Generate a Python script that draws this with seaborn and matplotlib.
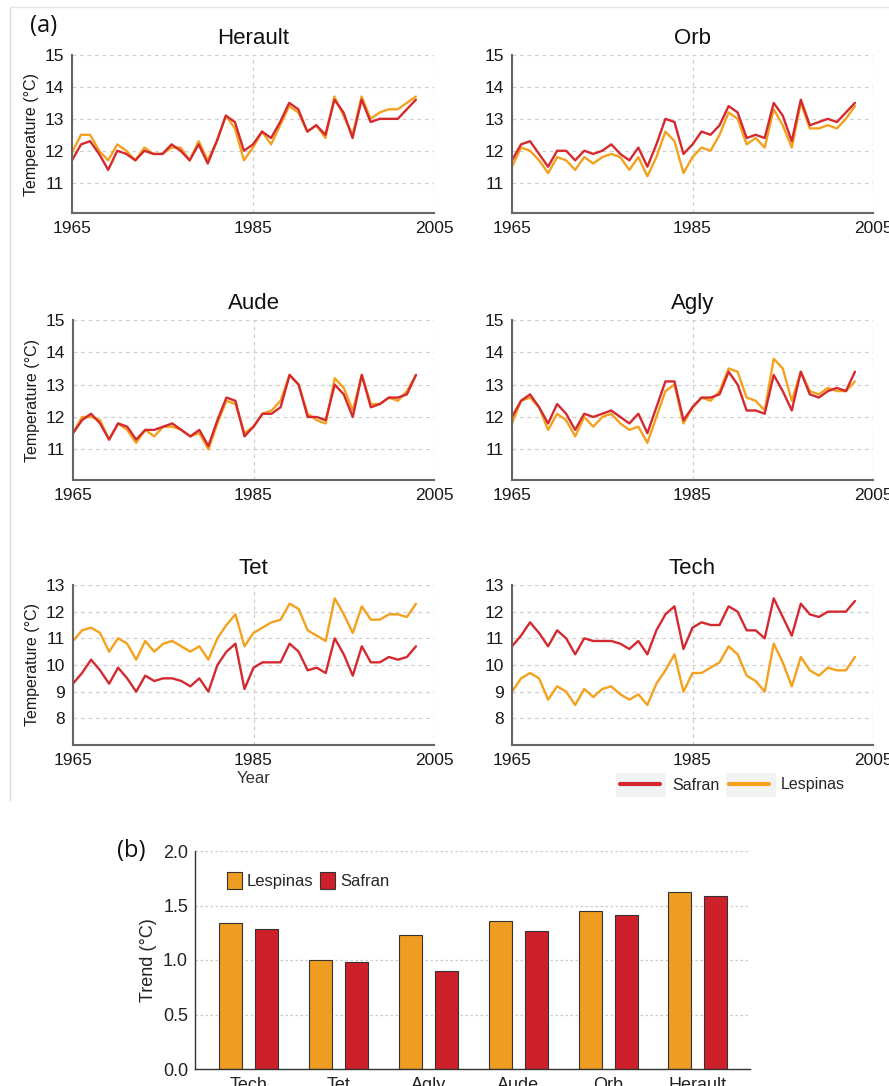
import numpy as np
import pandas as pd
import matplotlib
matplotlib.use("Agg")
import matplotlib.pyplot as plt
from matplotlib import font_manager
from matplotlib.lines import Line2D
from matplotlib.patches import Rectangle
import seaborn as sns

# ---- data ----
years = list(range(1965, 2004))

herault_safran = [11.7, 12.2, 12.3, 11.9, 11.4, 12.0, 11.9, 11.7, 12.0, 11.9,
                  11.9, 12.2, 12.0, 11.7, 12.2, 11.6, 12.3, 13.1, 12.9, 12.0,
                  12.2, 12.6, 12.4, 12.9, 13.5, 13.3, 12.6, 12.8, 12.5, 13.6,
                  13.2, 12.4, 13.6, 12.9, 13.0, 13.0, 13.0, 13.3, 13.6]
herault_lespinas = [11.95, 12.5, 12.5, 12.0, 11.7, 12.2, 12.0, 11.7, 12.1, 11.9,
                    11.9, 12.1, 12.1, 11.7, 12.3, 11.7, 12.3, 13.1, 12.7, 11.7,
                    12.1, 12.6, 12.2, 12.8, 13.4, 13.2, 12.6, 12.8, 12.4, 13.7,
                    13.1, 12.5, 13.7, 13.0, 13.2, 13.3, 13.3, 13.5, 13.7]

orb_safran = [11.7, 12.2, 12.3, 11.9, 11.5, 12.0, 12.0, 11.7, 12.0, 11.9,
              12.0, 12.2, 11.9, 11.7, 12.1, 11.5, 12.2, 13.0, 12.9, 11.9,
              12.2, 12.6, 12.5, 12.8, 13.4, 13.2, 12.4, 12.5, 12.4, 13.5,
              13.1, 12.3, 13.6, 12.8, 12.9, 13.0, 12.9, 13.2, 13.5]
orb_lespinas = [11.5, 12.1, 12.0, 11.7, 11.3, 11.8, 11.7, 11.4, 11.8, 11.6,
                11.8, 11.9, 11.8, 11.4, 11.8, 11.2, 11.8, 12.6, 12.3, 11.3,
                11.8, 12.1, 12.0, 12.5, 13.2, 13.0, 12.2, 12.4, 12.1, 13.3,
                12.8, 12.1, 13.5, 12.7, 12.7, 12.8, 12.7, 13.0, 13.4]

aude_safran = [11.5, 11.9, 12.1, 11.8, 11.3, 11.8, 11.7, 11.3, 11.6, 11.6,
               11.7, 11.8, 11.6, 11.4, 11.6, 11.1, 11.9, 12.6, 12.5, 11.4,
               11.7, 12.1, 12.1, 12.3, 13.3, 13.0, 12.0, 12.0, 11.9, 13.0,
               12.7, 12.0, 13.3, 12.3, 12.4, 12.6, 12.6, 12.7, 13.3]
aude_lespinas = [11.5, 12.0, 12.0, 11.9, 11.3, 11.8, 11.6, 11.2, 11.6, 11.4,
                 11.7, 11.7, 11.6, 11.4, 11.5, 11.0, 11.8, 12.5, 12.4, 11.5,
                 11.7, 12.1, 12.2, 12.5, 13.3, 13.0, 12.1, 11.9, 11.8, 13.2,
                 12.9, 12.2, 13.3, 12.4, 12.4, 12.6, 12.5, 12.8, 13.3]

agly_safran = [12.0, 12.5, 12.7, 12.3, 11.8, 12.4, 12.1, 11.6, 12.1, 12.0,
               12.1, 12.2, 12.0, 11.8, 12.1, 11.5, 12.3, 13.1, 13.1, 11.9,
               12.3, 12.6, 12.6, 12.7, 13.4, 13.0, 12.2, 12.2, 12.1, 13.3,
               12.8, 12.2, 13.4, 12.7, 12.6, 12.8, 12.9, 12.8, 13.4]
agly_lespinas = [11.8, 12.5, 12.6, 12.3, 11.6, 12.1, 11.9, 11.4, 12.0, 11.7,
                 12.0, 12.1, 11.8, 11.6, 11.7, 11.2, 12.0, 12.8, 13.0, 11.8,
                 12.3, 12.6, 12.5, 12.8, 13.5, 13.4, 12.6, 12.5, 12.2, 13.8,
                 13.5, 12.5, 13.4, 12.8, 12.7, 12.9, 12.8, 12.8, 13.1]

tet_safran = [9.3, 9.7, 10.2, 9.8, 9.3, 9.9, 9.5, 9.0, 9.6, 9.4,
              9.5, 9.5, 9.4, 9.2, 9.5, 9.0, 10.0, 10.5, 10.8, 9.1,
              9.9, 10.1, 10.1, 10.1, 10.8, 10.5, 9.8, 9.9, 9.7, 11.0,
              10.4, 9.6, 10.7, 10.1, 10.1, 10.3, 10.2, 10.3, 10.7]
tet_lespinas = [10.9, 11.3, 11.4, 11.2, 10.5, 11.0, 10.8, 10.2, 10.9, 10.5,
                10.8, 10.9, 10.7, 10.5, 10.7, 10.2, 11.0, 11.5, 11.9, 10.7,
                11.2, 11.4, 11.6, 11.7, 12.3, 12.1, 11.3, 11.1, 10.9, 12.5,
                11.9, 11.2, 12.2, 11.7, 11.7, 11.9, 11.9, 11.8, 12.3]

tech_safran = [10.7, 11.1, 11.6, 11.2, 10.7, 11.3, 11.0, 10.4, 11.0, 10.9,
               10.9, 10.9, 10.8, 10.6, 10.9, 10.4, 11.3, 11.9, 12.2, 10.6,
               11.4, 11.6, 11.5, 11.5, 12.2, 12.0, 11.3, 11.3, 11.0, 12.5,
               11.8, 11.1, 12.3, 11.9, 11.8, 12.0, 12.0, 12.0, 12.4]
tech_lespinas = [9.0, 9.5, 9.7, 9.5, 8.7, 9.2, 9.0, 8.5, 9.1, 8.8,
                 9.1, 9.2, 8.9, 8.7, 8.9, 8.5, 9.3, 9.8, 10.4, 9.0,
                 9.7, 9.7, 9.9, 10.1, 10.7, 10.4, 9.6, 9.4, 9.0, 10.8,
                 10.1, 9.2, 10.3, 9.8, 9.6, 9.9, 9.8, 9.8, 10.3]

basins = ["Tech", "Tet", "Agly", "Aude", "Orb", "Herault"]
trend_lespinas = [1.34, 1.00, 1.23, 1.36, 1.45, 1.62]
trend_safran = [1.28, 0.98, 0.90, 1.27, 1.41, 1.59]

series = {
    "Herault": (herault_safran, herault_lespinas),
    "Orb": (orb_safran, orb_lespinas),
    "Aude": (aude_safran, aude_lespinas),
    "Agly": (agly_safran, agly_lespinas),
    "Tet": (tet_safran, tet_lespinas),
    "Tech": (tech_safran, tech_lespinas),
}

rows = []
for basin, (saf, les) in series.items():
    for y, s, l in zip(years, saf, les):
        rows.append((basin, y, "Safran", s))
        rows.append((basin, y, "Lespinas", l))
temps = pd.DataFrame(rows, columns=["basin", "year", "source", "temp"])

bars = pd.DataFrame({
    "basin": basins * 2,
    "source": ["Lespinas"] * 6 + ["Safran"] * 6,
    "trend": trend_lespinas + trend_safran,
})

# ---- style ----
sns.set_style("white")
plt.rcParams["font.family"] = ["Liberation Sans", "DejaVu Sans"]
names = {f.name for f in font_manager.fontManager.ttflist}
narrow = "Liberation Sans Narrow" if "Liberation Sans Narrow" in names else "Liberation Sans"

line_pal = {"Safran": "#D42A2F", "Lespinas": "#F4A11E"}
bar_pal = {"Safran": "#CE202A", "Lespinas": "#EE9C22"}

W, H = 889, 1086
fig = plt.figure(figsize=(W / 100, H / 100), dpi=100)


def axes_px(left, top, right, bottom):
    return fig.add_axes([left / W, 1 - bottom / H, (right - left) / W, (bottom - top) / H])


# frame around panel (a)
fig.add_artist(Line2D([10 / W, 10 / W], [1 - 7 / H, 1 - 800 / H], color="#d9d9d9", lw=1))
fig.add_artist(Line2D([10 / W, 1], [1 - 7 / H, 1 - 7 / H], color="#e6e6e6", lw=1))

layout = {
    "Herault": (72, 55, 434, 213),
    "Orb": (512, 55, 873, 213),
    "Aude": (73, 320, 434, 480),
    "Agly": (512, 320, 873, 480),
    "Tet": (73, 585, 434, 745),
    "Tech": (512, 585, 873, 745),
}

for basin, box in layout.items():
    ax = axes_px(*box)
    sub = temps[temps["basin"] == basin]
    sns.lineplot(data=sub, x="year", y="temp", hue="source",
                 hue_order=["Lespinas", "Safran"], palette=line_pal,
                 linewidth=1.7, legend=False, ax=ax)
    ax.set_xlim(1965, 2005)
    ax.set_xticks([1965, 1985, 2005])
    if basin in ("Tet", "Tech"):
        ax.set_ylim(7, 13)
        ax.set_yticks([8, 9, 10, 11, 12, 13])
    else:
        ax.set_ylim(10.05, 15)
        ax.set_yticks([11, 12, 13, 14, 15])
    ax.grid(True, color="#cfcfcf", linestyle=(0, (3, 3)), linewidth=0.9)
    for side in ("top", "right"):
        ax.spines[side].set_visible(False)
    for side in ("left", "bottom"):
        ax.spines[side].set_color("#666666")
        ax.spines[side].set_linewidth(1.5)
    ax.tick_params(length=0, pad=6, labelsize=12.5, colors="#1a1a1a")
    ax.set_title(basin, fontsize=16, pad=8, color="#111111")
    if basin in ("Herault", "Aude", "Tet"):
        ax.set_ylabel("Temperature (°C)", fontsize=11.5, labelpad=4, color="#1a1a1a")
    else:
        ax.set_ylabel("")
    if basin == "Tet":
        ax.set_xlabel("Year", fontsize=12, labelpad=2, color="#333333")
    else:
        ax.set_xlabel("")

# legend of panel (a)
for x0 in (616, 726):
    fig.add_artist(Rectangle((x0 / W, 1 - 797 / H), 50 / W, 24 / H,
                             transform=fig.transFigure, color="#f1f2f4", lw=0))
handles = [Line2D([], [], color=line_pal["Safran"], lw=3),
           Line2D([], [], color=line_pal["Lespinas"], lw=3)]
fig.legend(handles, ["Safran", "Lespinas"], loc="center left",
           bbox_to_anchor=(620 / W, 1 - 785 / H), ncol=2, frameon=False,
           fontsize=11.5, handlelength=2.5, handletextpad=0.75, columnspacing=0.6,
           borderpad=0, borderaxespad=0)

fig.text(30 / W, 1 - 26 / H, "(a)", fontsize=17, family=["Open Sans", "DejaVu Sans"],
         va="center", ha="left", color="#111111")

# ---- panel (b) ----
axb = axes_px(195, 851, 750, 1069)
sns.barplot(data=bars, x="basin", y="trend", hue="source", order=basins,
            hue_order=["Lespinas", "Safran"], palette=bar_pal, saturation=1,
            width=0.8, gap=0.36, edgecolor="#333333", linewidth=0.8, ax=axb)
axb.set_xlim(-0.6, 5.58)
axb.set_ylim(0, 2.0)
axb.set_yticks([0, 0.5, 1.0, 1.5, 2.0])
axb.set_yticklabels(["0.0", "0.5", "1.0", "1.5", "2.0"])
axb.yaxis.grid(True, color="#cccccc", linestyle=(0, (2, 2)), linewidth=0.9)
axb.set_axisbelow(True)
for side in ("top", "right"):
    axb.spines[side].set_visible(False)
for side in ("left", "bottom"):
    axb.spines[side].set_color("#333333")
    axb.spines[side].set_linewidth(1.0)
axb.tick_params(axis="y", length=3, width=0.8, pad=2, labelsize=13, colors="#222222")
axb.tick_params(axis="x", length=0, pad=6, labelsize=13, colors="#222222")
for lab in axb.get_xticklabels() + axb.get_yticklabels():
    lab.set_family(narrow)
axb.set_xlabel("")
axb.set_ylabel("Trend (°C)", fontsize=13, labelpad=4, color="#222222")
axb.legend(loc="upper left", bbox_to_anchor=(0.045, 0.935), ncol=2, frameon=False,
           fontsize=12, handlelength=0.9, handleheight=1.2, handletextpad=0.3,
           columnspacing=0.4, borderaxespad=0)

fig.text(117 / W, 1 - 851 / H, "(b)", fontsize=17, family=["Open Sans", "DejaVu Sans"],
         va="center", ha="left", color="#111111")

fig.savefig("out.png", dpi=100)
